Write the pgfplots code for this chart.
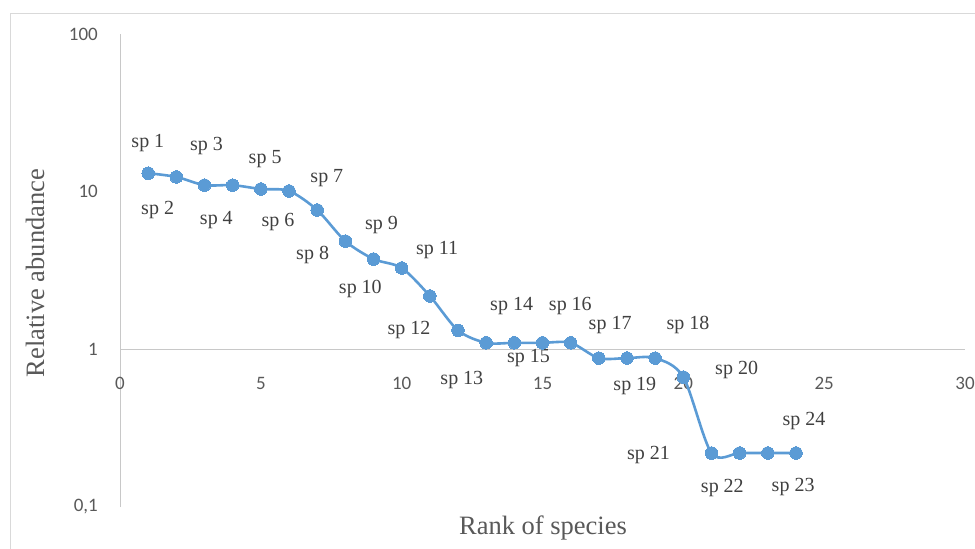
\documentclass[border=0pt]{standalone}
\usepackage{pgfplots}
\pgfplotsset{compat=1.18}
\usepackage{fontspec}
\setmainfont{Liberation Serif}
\newfontfamily\carlito{Carlito}
\definecolor{exblue}{HTML}{5B9BD5}
\definecolor{axgray}{HTML}{C8C8C8}
\definecolor{tickgray}{HTML}{595959}
\definecolor{lblgray}{HTML}{404040}
\begin{document}
\begin{tikzpicture}
\useasboundingbox (0,0) rectangle (975pt,-549pt);
\draw[color=black!15, line width=0.8pt] (10pt,-560pt) -- (10pt,-13pt) -- (985pt,-13pt);
\begin{axis}[
  at={(120pt,-507pt)}, anchor=south west,
  scale only axis, width=845pt, height=473pt,
  xmin=0, xmax=30, ymode=log, ymin=0.1, ymax=100,
  axis x line*=middle, axis y line*=left,
  axis line style={draw=axgray, line width=0.9pt},
  hide obscured x ticks=false, hide obscured y ticks=false,
  major tick length=0pt, minor tick length=0pt, yminorticks=false,
  xtick={0,5,10,15,20,25,30}, xticklabels={0,5,10,15,20,25,30},
  ytick={0.1,1,10,100}, yticklabels={{0,1},1,10,100},
  ticklabel style={font=\carlito\fontsize{19}{21}\selectfont, text=tickgray, inner sep=0pt},
  xticklabel style={anchor=center, yshift=-34pt},
  yticklabel style={anchor=east, xshift=-22pt},
  clip=false,
]
\addplot[color=exblue, line width=2.6pt, smooth, tension=0.5, mark=*, mark size=6.3pt, mark options={fill=exblue, draw=exblue, line width=0pt}] table {
x y
1 13.1
2 12.4
3 11.0
4 11.0
5 10.4
6 10.1
7 7.65
8 4.86
9 3.74
10 3.28
11 2.18
12 1.32
13 1.10
14 1.10
15 1.10
16 1.10
17 0.88
18 0.88
19 0.88
20 0.667
21 0.22
22 0.22
23 0.22
24 0.22
};
\tikzset{lab/.style={font=\fontsize{20}{24}\selectfont, text=lblgray, inner sep=0pt}}
\node[lab, xshift=-0.3pt, yshift=30pt] at (axis cs:1,13.1) {sp 1};
\node[lab, xshift=-18.7pt, yshift=-33pt] at (axis cs:2,12.4) {sp 2};
\node[lab, xshift=2pt, yshift=39pt] at (axis cs:3,11.0) {sp 3};
\node[lab, xshift=-16.3pt, yshift=-35pt] at (axis cs:4,11.0) {sp 4};
\node[lab, xshift=4.3pt, yshift=30pt] at (axis cs:5,10.4) {sp 5};
\node[lab, xshift=-11pt, yshift=-31pt] at (axis cs:6,10.1) {sp 6};
\node[lab, xshift=9.7pt, yshift=32pt] at (axis cs:7,7.65) {sp 7};
\node[lab, xshift=-32.7pt, yshift=-14pt] at (axis cs:8,4.86) {sp 8};
\node[lab, xshift=8pt, yshift=34pt] at (axis cs:9,3.74) {sp 9};
\node[lab, xshift=-41.3pt, yshift=-21pt] at (axis cs:10,3.28) {sp 10};
\node[lab, xshift=7.3pt, yshift=46pt] at (axis cs:11,2.18) {sp 11};
\node[lab, xshift=-49pt, yshift=0pt] at (axis cs:12,1.32) {sp 12};
\node[lab, xshift=-24.3pt, yshift=-37pt] at (axis cs:13,1.10) {sp 13};
\node[lab, xshift=-2.7pt, yshift=37pt] at (axis cs:14,1.10) {sp 14};
\node[lab, xshift=-14pt, yshift=-15pt] at (axis cs:15,1.10) {sp 15};
\node[lab, xshift=-0.3pt, yshift=37pt] at (axis cs:16,1.10) {sp 16};
\node[lab, xshift=11.3pt, yshift=33pt] at (axis cs:17,0.88) {sp 17};
\node[lab, xshift=61pt, yshift=33pt] at (axis cs:18,0.88) {sp 18};
\node[lab, xshift=-20.3pt, yshift=-28pt] at (axis cs:19,0.88) {sp 19};
\node[lab, xshift=53.3pt, yshift=7pt] at (axis cs:20,0.667) {sp 20};
\node[lab, xshift=-63pt, yshift=-2pt] at (axis cs:21,0.22) {sp 21};
\node[lab, xshift=-17.3pt, yshift=-35pt] at (axis cs:22,0.22) {sp 22};
\node[lab, xshift=25.3pt, yshift=-34pt] at (axis cs:23,0.22) {sp 23};
\node[lab, xshift=8pt, yshift=32pt] at (axis cs:24,0.22) {sp 24};
\end{axis}
\node[rotate=90, font=\fontsize{26.5}{30}\selectfont, text=tickgray] at (35pt,-273pt) {Relative abundance};
\node[font=\fontsize{26.5}{30}\selectfont, text=tickgray] at (543pt,-528pt) {Rank of species};
\end{tikzpicture}
\end{document}
